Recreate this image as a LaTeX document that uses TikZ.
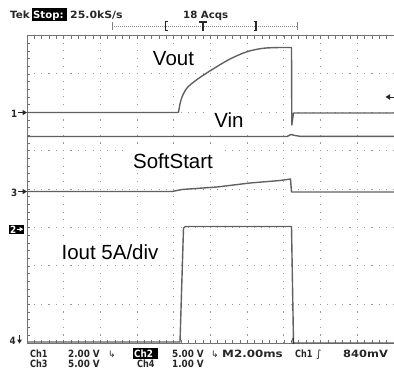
\documentclass[tikz,border=0pt]{standalone}
\usepackage{fontspec}
\setmainfont{Liberation Sans}
\newfontfamily\scopefont[FakeStretch=0.88]{DejaVu Sans}
\newfontfamily\symfont{DejaVu Sans}
\tikzset{
  gridframe/.style={draw=black!55, line width=1pt},
  gridtick/.style={draw=black!55, line width=0.7pt},
  griddot/.style={draw=black!40, line width=1.1pt},
  trace/.style={draw=black!62, line width=1.4pt, line join=round},
  siglabel/.style={font=\fontsize{20.5}{24}\selectfont, fill=white, inner xsep=6pt, inner ysep=4pt, text=black},
  readout/.style={font=\scopefont\bfseries\fontsize{10}{12}\selectfont, inner sep=0pt, text=black!85},
  marker/.style={fill=black!85},
}
\begin{document}
\begin{tikzpicture}[x=1pt,y=-1pt]
\useasboundingbox (0,0) rectangle (394,372);
% ---- graticule ----
\foreach \k in {1,...,9} {
  \draw[griddot, dash pattern=on 1.1pt off 6.58pt, dash phase=0.55pt] ({27+36.7*\k},35.5) -- ({27+36.7*\k},343);
}
\foreach \k in {1,...,7} {
  \draw[griddot, dash pattern=on 1.1pt off 6.24pt, dash phase=0.55pt] (27,{35.5+38.4*\k}) -- (396,{35.5+38.4*\k});
}
\foreach \i in {1,...,50} {
  \draw[gridtick] ({27+7.34*\i},35.5) -- ++(0,3);
  \draw[gridtick] ({27+7.34*\i},343) -- ++(0,-3);
}
\foreach \i in {1,...,39} {
  \draw[gridtick] (27,{35.5+7.68*\i}) -- ++(3,0);
}
\draw[gridframe] (396,35.5) -- (27,35.5) -- (27,343) -- (396,343);
% ---- signal labels ----
\node[siglabel, anchor=base] (lvout) at (173.5,65) {Vout};
\node[siglabel, anchor=base] (lvin) at (229,127) {Vin};
\node[siglabel, anchor=base] (lss) at (173,168) {SoftStart};
\node[siglabel, anchor=base] (liout) at (110,259) {Iout 5A/div};
% ---- traces ----
% Ch1 Vout
\draw[trace] (27,112.5) -- (178.5,112.5)
  plot[smooth, tension=0.5] coordinates {(178.5,112.5) (180,104) (182,97) (187,88) (197,79.5) (213,69) (230,59) (247,51.7) (263,48.3) (280,47.5) (291.5,47.5)}
  -- (291.8,125) -- (293.5,113) -- (396,113);
% Vin
\draw[trace] (27,136.5) -- (287,136.5) -- (291,134.5) -- (295,135.5) -- (300,136.3) -- (396,136.3);
% Ch3 SoftStart
\draw[trace] (27,191.5) -- (172,191.5) -- (182,189.5) -- (217,187) -- (250,183) -- (280,180.5) -- (290.5,179) -- (291.5,192) -- (396,192);
% Ch2 Iout
\draw[trace] (27,342) -- (180,342) -- (183.5,228) -- (185.5,226.5) -- (291.5,226.5) -- (293.5,343) -- (396,343);
\draw[black!80, line width=1.4pt] (293,338) -- (293.5,344);
% ---- channel markers ----
\node[readout, anchor=base east] (m1) at (17.5,117) {1};
\draw[black!85, line width=1pt] (18,112.5) -- (24,112.5);
\fill[marker] (27,112.5) -- (22.5,109.8) -- (22.5,115.2) -- cycle;
\node[readout, anchor=base east] (m3) at (17.5,196) {3};
\draw[black!85, line width=1pt] (18,191.5) -- (24,191.5);
\fill[marker] (27,191.5) -- (22.5,188.8) -- (22.5,194.2) -- cycle;
\fill[black] (8.5,224.5) rectangle (24,234);
\node[readout, text=white, anchor=base west] (m2) at (10,233) {2};
\draw[white, line width=1pt] (16.5,229.2) -- (21,229.2);
\fill[white] (23.2,229.2) -- (19.5,227) -- (19.5,231.4) -- cycle;
\node[readout, anchor=base east] (m4) at (16,344.5) {4};
\draw[black!85, line width=1pt] (19.5,335) -- (19.5,340);
\fill[marker] (19.5,343.5) -- (17,339.5) -- (22,339.5) -- cycle;
% trigger level marker
\fill[marker] (385.5,97) -- (390,94.2) -- (390,99.8) -- cycle;
\draw[black!85, line width=1pt] (389,97) -- (394,97);
% ---- top readout ----
\node[readout, anchor=base west] (tek) at (10,18.3) {\scalebox{1.18}[1]{Tek}};
\fill[black] (32,8) rectangle (67,21);
\node[readout, text=white, anchor=base west] (stop) at (33,18.3) {\scalebox{1.15}[1]{Stop:}};
\node[readout, anchor=base west] (rate) at (70,18.3) {\scalebox{1.24}[1]{25.0kS/s}};
\node[readout, anchor=base west] (acqs) at (183,18.3) {\scalebox{1.16}[1]{18 Acqs}};
\draw[black!45, line width=0.8pt, dash pattern=on 1pt off 1pt] (112,26) -- (297,26);
\draw[black!50, line width=0.8pt] (112,22) -- (112,30) (297,22) -- (297,30);
\draw[black!85, line width=1.4pt] (168,21.5) -- (165.5,21.5) -- (165.5,30.5) -- (168,30.5);
\draw[black!85, line width=1.4pt] (253.5,21.5) -- (256,21.5) -- (256,30.5) -- (253.5,30.5);
\draw[black!85, line width=1.4pt] (199,21.8) -- (207,21.8) (203,21.8) -- (203,31);
% ---- bottom readout ----
\node[readout, anchor=base west] (b1) at (30,357) {\scalebox{0.92}[1]{Ch1}};
\node[readout, anchor=base west] (b2) at (68,357) {2.00 V};
\node[readout, anchor=base west, font=\symfont\fontsize{9}{11}\selectfont] (b3) at (108,357) {↳};
\fill[black] (132.5,347.5) rectangle (157.5,359);
\node[readout, text=white, anchor=base west] (b4) at (134,357) {Ch2};
\node[readout, anchor=base west] (b5) at (172,357) {5.00 V};
\node[readout, anchor=base west, font=\symfont\fontsize{9}{11}\selectfont] (b6) at (211,357) {↳};
\node[readout, anchor=base west] (b7) at (222,357) {\scalebox{1.35}[1]{M2.00ms}};
\node[readout, anchor=base west] (b8) at (295,357) {\scalebox{0.92}[1]{Ch1}};
\node[readout, anchor=base west, font=\symfont\fontsize{10}{12}\selectfont] (b9) at (316,357) {∫};
\node[readout, anchor=base west] (b10) at (343,357) {\scalebox{1.3}[1]{840mV}};
\node[readout, anchor=base west] (c1) at (30,367) {\scalebox{0.92}[1]{Ch3}};
\node[readout, anchor=base west] (c2) at (68,367) {5.00 V};
\node[readout, anchor=base west] (c3) at (137,367) {\scalebox{0.92}[1]{Ch4}};
\node[readout, anchor=base west] (c4) at (172,367) {1.00 V};
\end{tikzpicture}
\end{document}
